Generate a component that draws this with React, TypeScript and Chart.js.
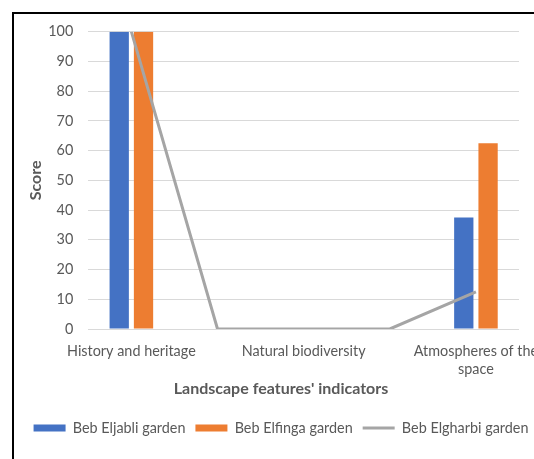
import React, { useEffect, useRef } from "react";
import { Chart, registerables } from "chart.js";

Chart.register(...registerables);

const categories: (string | string[])[] = [
  "History and heritage",
  "",
  "Natural biodiversity",
  "",
  ["Atmospheres of the", "space"],
];
const ebEljabli: (number | null)[] = [100, null, 0, null, 37.5];
const ebElfinga: (number | null)[] = [100, null, 0, null, 62.5];
const ebElgharbi: number[] = [100, 0, 0, 0, 12.5];
const seriesNames = ["Beb Eljabli garden", "Beb Elfinga garden", "Beb Elgharbi garden"];
const yTitle = "Score";
const xTitle = "Landscape features' indicators";

const FONT = "Lato";
const TEXT = "#595959";
const FS = 14.4;

export default function App() {
  const ref = useRef<HTMLCanvasElement | null>(null);

  useEffect(() => {
    if (!ref.current) return;
    const chart = new Chart(ref.current, {
      type: "bar",
      data: {
        labels: categories,
        datasets: [
          {
            type: "bar",
            label: seriesNames[0],
            data: ebEljabli,
            backgroundColor: "#4472C4",
            borderWidth: 0,
            order: 1,
            categoryPercentage: 0.564,
            barPercentage: 0.794,
          },
          {
            type: "bar",
            label: seriesNames[1],
            data: ebElfinga,
            backgroundColor: "#ED7D31",
            borderWidth: 0,
            order: 1,
            categoryPercentage: 0.564,
            barPercentage: 0.794,
          },
          {
            type: "line",
            label: seriesNames[2],
            data: ebElgharbi,
            borderColor: "#A5A5A5",
            backgroundColor: "#A5A5A5",
            borderWidth: 3,
            pointRadius: 0,
            tension: 0,
            order: 0,
          } as any,
        ],
      },
      options: {
        animation: false,
        responsive: false,
        layout: { padding: { left: 0, right: 26, top: 17.7, bottom: 28.8 } },
        font: { family: FONT },
        scales: {
          x: {
            grid: { display: false, drawTicks: false },
            border: { display: false },
            ticks: {
              color: TEXT,
              font: { family: FONT, size: FS, lineHeight: 1.25 },
              padding: 13,
              autoSkip: false,
              maxRotation: 0,
              minRotation: 0,
            },
            afterFit: (s: any) => {
              s.height = 50.4;
            },
          },
          y: {
            min: 0,
            max: 100,
            ticks: {
              stepSize: 10,
              color: TEXT,
              font: { family: FONT, size: FS },
              padding: 8,
            },
            grid: {
              color: "#D9D9D9",
              lineWidth: 1,
              drawTicks: true,
              tickLength: 7,
              tickColor: "rgba(0,0,0,0)",
            },
            border: { display: false },
            title: {
              display: true,
              text: yTitle,
              color: TEXT,
              font: { family: FONT, size: 16, weight: "bold", lineHeight: 1.2 },
              padding: { top: 12.4, bottom: 0 },
            },
            afterFit: (s: any) => {
              s.width = 74.3;
            },
          },
          y2: {
            position: "right",
            display: true,
            grid: { display: false, drawTicks: false },
            border: { display: false },
            ticks: { display: false, padding: 0 },
            afterFit: (s: any) => {
              s.width = 29;
            },
          },
        },
        plugins: {
          tooltip: { enabled: false },
          title: {
            display: true,
            position: "bottom",
            weight: 500,
            text: xTitle,
            color: TEXT,
            font: { family: FONT, size: 16, weight: "bold", lineHeight: 1.2 },
            padding: { top: 0, bottom: 12.2 },
          },
          legend: {
            position: "bottom",
            labels: {
              usePointStyle: true,
              pointStyleWidth: 32,
              boxHeight: 7,
              padding: 10,
              color: TEXT,
              font: { family: FONT, size: FS },
              sort: (a: any, b: any) => a.datasetIndex - b.datasetIndex,
              generateLabels: (c: any) => {
                const items = Chart.defaults.plugins.legend.labels.generateLabels(c);
                return items.map((it: any) => ({
                  ...it,
                  pointStyle: it.datasetIndex === 2 ? "line" : "rect",
                  lineWidth: it.datasetIndex === 2 ? 3 : 0,
                }));
              },
            },
          },
        },
      } as any,
    });
    return () => chart.destroy();
  }, []);

  return (
    <div
      style={{
        position: "fixed",
        left: 0,
        top: 0,
        width: 534,
        height: 459,
        overflow: "hidden",
        background: "#fff",
      }}
    >
      <div
        style={{
          position: "absolute",
          left: 12,
          top: 12,
          width: 560,
          height: 460,
          border: "2px solid #000",
        }}
      >
        <canvas ref={ref} width={560} height={460} style={{ display: "block" }} />
      </div>
    </div>
  );
}
